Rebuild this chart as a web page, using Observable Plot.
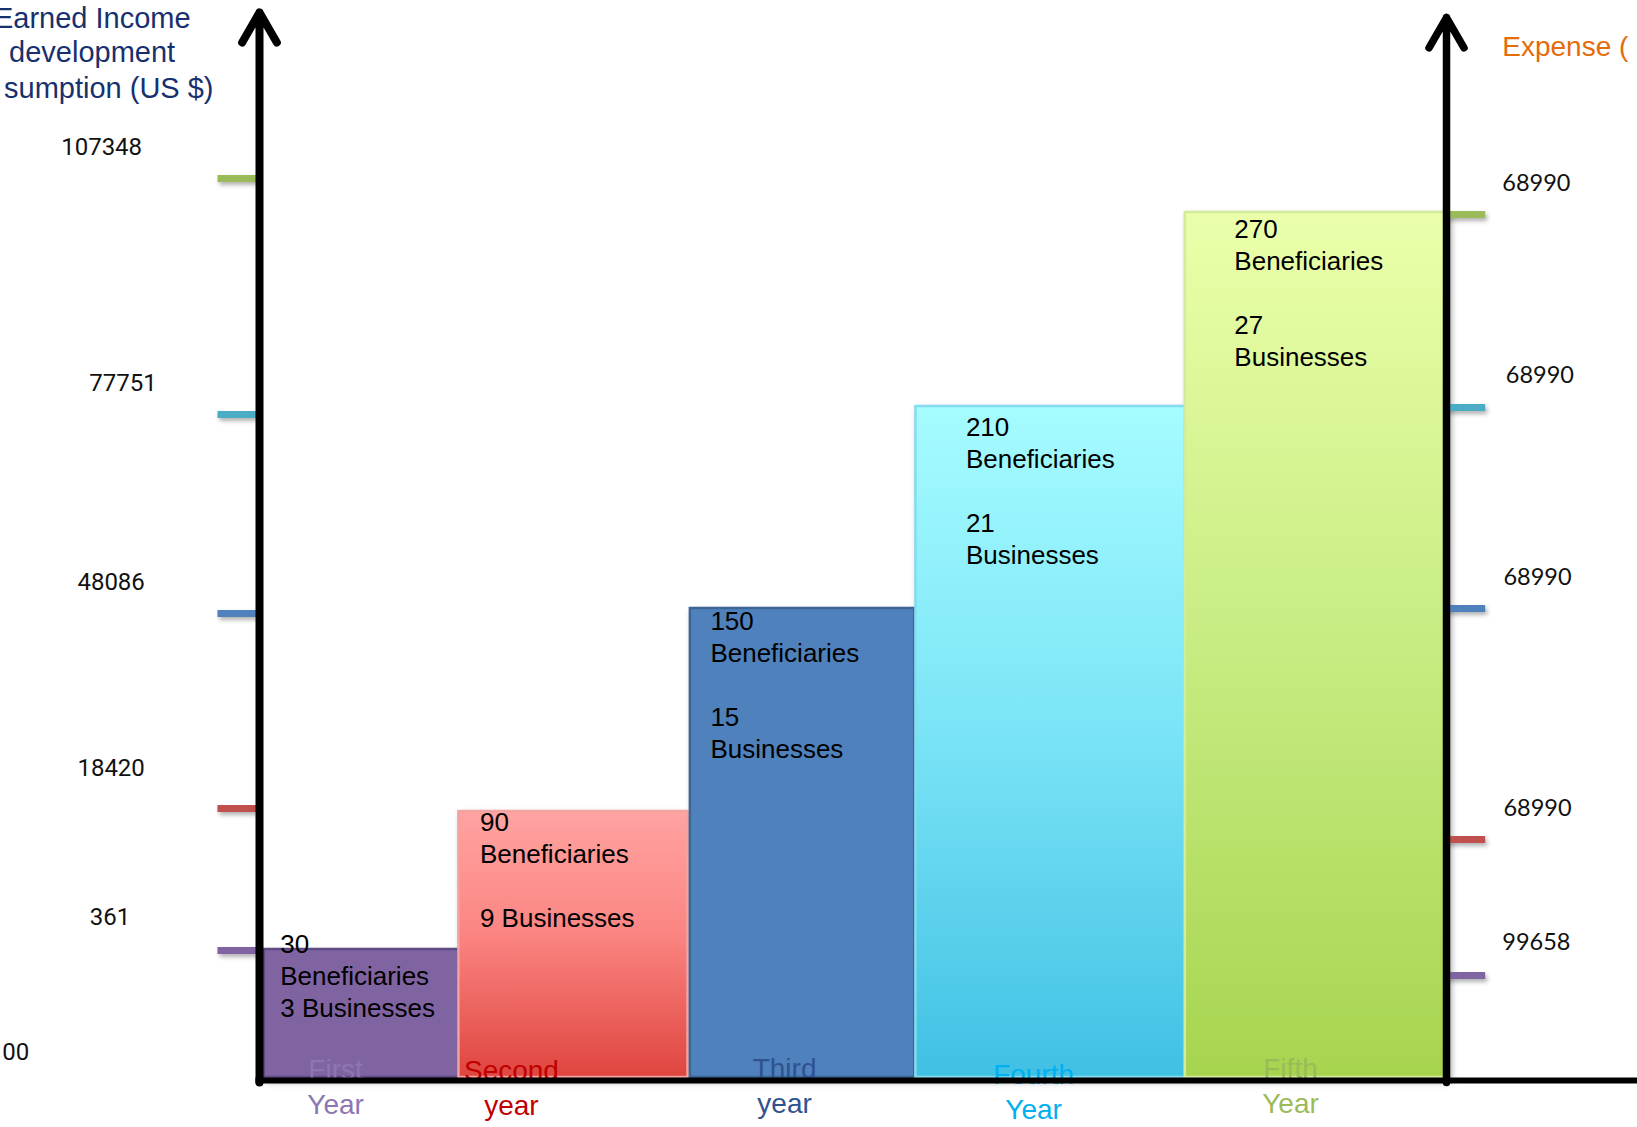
<!DOCTYPE html>
<html><head><meta charset="utf-8">
<script src="https://cdn.jsdelivr.net/npm/d3@7"></script>
<script src="https://cdn.jsdelivr.net/npm/@observablehq/plot@0.6"></script>
<style>
html,body{margin:0;padding:0;background:#fff;overflow:hidden;}
#chart svg{display:block;}
</style></head><body><div id="chart"></div>
<script>
// ---------------- data ----------------
const years = ["First\nYear", "Second\nyear", "Third\nyear", "Fourth\nYear", "Fifth\nYear"];
const beneficiaries = [30, 90, 150, 210, 270];
const businesses = [3, 9, 15, 21, 27];
// bar heights read on the vertical axis (0–100 units)
const barLevel = [12.8, 26.6, 46.9, 67.1, 86.5];
// bar spans along the horizontal axis (0 = left axis, 100 = right axis)
const barStart = [0.4, 16.8, 36.3, 55.3, 78.0];
const barEnd   = [16.8, 36.1, 55.2, 78.0, 100.1];
const leftTickLabels  = ["107348", "77751", "48086", "18420", "361", "00"];
const leftMarkLevel   = [89.9, 66.3, 46.4, 26.9, 12.7];
const rightTickLabels = ["68990", "68990", "68990", "68990", "99658"];
const rightMarkLevel  = [86.3, 67.0, 46.9, 23.8, 10.2];
const leftTitle  = ["Earned Income", "development", "sumption (US $)"];
const rightTitle = "Expense (";

// ---------------- layout / style ----------------
const W = 1637, H = 1127;
const barFill   = ["#8064a2", "url(#gRed)", "#4f81bd", "url(#gCyan)", "url(#gGreen)"];
const barStroke = ["#5e4b82", "#f3a3a0", "#3c6696", "#86dbee", "#d2eb9c"];
const yearColor = ["#8d76b3", "#c00000", "#2f5290", "#00b0f0", "#9bbb59"];
const dashColor = ["#9bbb59", "#4bacc6", "#4f81bd", "#c0504d", "#8064a2"];
const barTextDx = [16, 21, 20, 50, 49];
const barTextDy = [-19, -3, -1, 7, 3];
const yearDx = [-26, -62, -18, -17, -26];
const yearDy = [-23, -22, -24, -18, -24];
const leftLabelPos = [[-13.3, 93.0], [-11.5, 69.4], [-12.5, 49.5], [-12.5, 30.9], [-12.6, 16.0]];
const zeroLabelPos = [-19.4, 2.5];
const rightLabelPos = [[104.7, 89.4], [105.0, 70.2], [104.8, 50.0], [104.8, 26.9], [104.7, 13.5]];

const bars = years.map((y, i) => ({
  i, year: y,
  x1: barStart[i], x2: barEnd[i], top: barLevel[i],
  text: i === 0 ? `${beneficiaries[i]}\nBeneficiaries\n${businesses[i]} Businesses`
      : i === 1 ? `${beneficiaries[i]}\nBeneficiaries\n\n${businesses[i]} Businesses`
      : `${beneficiaries[i]}\nBeneficiaries\n\n${businesses[i]}\nBusinesses`
}));

function defs() {
  const ns = "http://www.w3.org/2000/svg";
  const d = document.createElementNS(ns, "defs");
  const grads = [
    ["gRed",   [["0", "#ffa3a1"], ["0.45", "#fb8683"], ["1", "#df453f"]]],
    ["gCyan",  [["0", "#a6fcff"], ["0.5", "#79e3f6"], ["1", "#40c0e4"]]],
    ["gGreen", [["0", "#ebffaa"], ["0.5", "#c7ec82"], ["1", "#a7d44f"]]]
  ];
  for (const [id, stops] of grads) {
    const g = document.createElementNS(ns, "linearGradient");
    g.setAttribute("id", id);
    g.setAttribute("x1", "0"); g.setAttribute("y1", "0");
    g.setAttribute("x2", "0"); g.setAttribute("y2", "1");
    for (const [o, c] of stops) {
      const s = document.createElementNS(ns, "stop");
      s.setAttribute("offset", o); s.setAttribute("stop-color", c);
      g.appendChild(s);
    }
    d.appendChild(g);
  }
  return d;
}

const shadow = "drop-shadow(3px 4px 3px rgba(0,0,0,0.35))";
const marks = [
  defs,
  Plot.rectY(bars, {x1: "x1", x2: "x2", y1: 0, y2: "top",
    fill: d => barFill[d.i], stroke: d => barStroke[d.i], strokeWidth: 2.5,
    imageFilter: shadow}),
  // text in bars
  ...bars.map(b => Plot.text([b], {x: "x1", y: "top", text: "text",
    dx: barTextDx[b.i], dy: barTextDy[b.i], textAnchor: "start", lineAnchor: "top",
    lineHeight: 1.23, fontSize: 26, fontFamily: "Liberation Sans, Arial, sans-serif", fill: "#000"})),
  // year labels
  ...bars.map(b => Plot.text([b], {x: d => (d.x1 + d.x2) / 2, y: 0, text: "year",
    dx: yearDx[b.i], dy: yearDy[b.i], lineAnchor: "top", lineHeight: 1.25,
    fontSize: 28, fontFamily: "Liberation Sans, Arial, sans-serif", fill: yearColor[b.i]})),
  // left coloured markers
  Plot.ruleY(leftMarkLevel.map((v, i) => ({v, i})), {y: "v", x1: -3.5, x2: -0.2,
    stroke: d => dashColor[d.i], strokeWidth: 7, imageFilter: "drop-shadow(2px 3px 2px rgba(0,0,0,0.3))"}),
  Plot.ruleY(rightMarkLevel.map((v, i) => ({v, i})), {y: "v", x1: 100.0, x2: 103.3,
    stroke: d => dashColor[d.i], strokeWidth: 7, imageFilter: "drop-shadow(2px 3px 2px rgba(0,0,0,0.3))"}),
  // axes
  Plot.ruleY([0], {y: -0.3, x1: -0.3, x2: 116.3, stroke: "#000", strokeWidth: 6}),
  Plot.arrow([0], {x1: 0, y1: -0.5, x2: 0, y2: 106.5, stroke: "#000", strokeWidth: 8,
    headLength: 6.5, headAngle: 60, strokeLinecap: "round", strokeLinejoin: "round"}),
  Plot.arrow([0], {x1: 100, y1: -0.5, x2: 100, y2: 106.0, stroke: "#000", strokeWidth: 7.5,
    headLength: 7, headAngle: 60, strokeLinecap: "round", strokeLinejoin: "round"}),
  // tick labels
  Plot.text(leftTickLabels.slice(0, 5).map((t, i) => ({t, x: leftLabelPos[i][0], y: leftLabelPos[i][1]})),
    {x: "x", y: "y", text: "t", fontSize: 24, fontFamily: "Roboto, sans-serif", fill: "#111"}),
  Plot.text([{t: leftTickLabels[5], x: zeroLabelPos[0], y: zeroLabelPos[1]}],
    {x: "x", y: "y", text: "t", textAnchor: "end", fontSize: 24, fontFamily: "Roboto, sans-serif", fill: "#111"}),
  Plot.text(rightTickLabels.map((t, i) => ({t, x: rightLabelPos[i][0], y: rightLabelPos[i][1]})),
    {x: "x", y: "y", text: "t", textAnchor: "start", fontSize: 23.5, fontFamily: "Lato, sans-serif", fill: "#111"}),
  // axis titles
  Plot.text([{t: leftTitle[0], x: -5.8, y: 105.9}], {x: "x", y: "y", text: "t", textAnchor: "end",
    fontSize: 29, fontFamily: "Liberation Sans, Arial, sans-serif", fill: "#17306e"}),
  Plot.text([{t: leftTitle[1], x: -14.1, y: 102.5}, {t: leftTitle[2], x: -12.7, y: 98.9}],
    {x: "x", y: "y", text: "t", fontSize: 29, fontFamily: "Liberation Sans, Arial, sans-serif", fill: "#17306e"}),
  Plot.text([{t: rightTitle, x: 104.7, y: 103.0}], {x: "x", y: "y", text: "t", textAnchor: "start",
    fontSize: 28, fontFamily: "Liberation Sans, Arial, sans-serif", fill: "#e46c0a"})
];

const chart = Plot.plot({
  width: W, height: H,
  marginLeft: 259, marginRight: 191, marginTop: 77, marginBottom: 50,
  x: {domain: [0, 100], axis: null},
  y: {domain: [0, 100], axis: null},
  color: {type: "identity"},
  style: {background: "white", overflow: "visible"},
  marks
});
document.getElementById("chart").appendChild(chart);
</script>
</body></html>
